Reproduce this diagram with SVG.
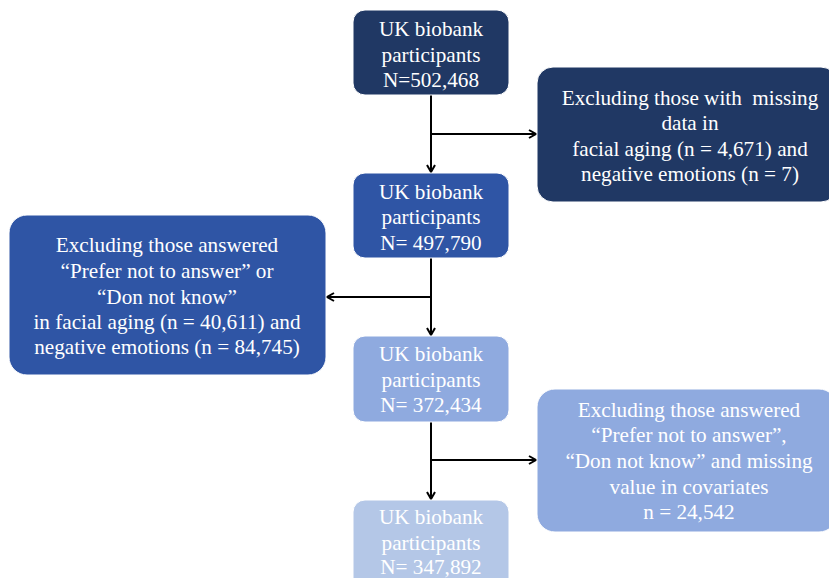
<svg xmlns="http://www.w3.org/2000/svg" width="829" height="578" viewBox="0 0 829 578">
<style>
text{font-family:"Liberation Serif","Times New Roman",serif;font-size:21.2px;fill:#fff;text-anchor:middle}
.c{stroke:#000;stroke-width:2;fill:none}
.d{fill:#203864;stroke:#fff;stroke-width:1}
.m{fill:#2F55A5;stroke:#fff;stroke-width:1}
.l{fill:#8FAADF;stroke:#fff;stroke-width:1}
.x{fill:#B4C7E7;stroke:#fff;stroke-width:1}
</style>
<defs>
<marker id="a" markerWidth="10" markerHeight="10" refX="8" refY="5" orient="auto" markerUnits="userSpaceOnUse">
<path d="M1,1 L8,5 L1,9" fill="none" stroke="#000" stroke-width="2"/>
</marker>
</defs>
<rect width="829" height="578" fill="#fff"/>
<g id="connectors">
<path class="c" d="M431,95 V172" marker-end="url(#a)"/>
<path class="c" d="M431,134 H536" marker-end="url(#a)"/>
<path class="c" d="M431,258 V335" marker-end="url(#a)"/>
<path class="c" d="M431,297 H327" marker-end="url(#a)"/>
<path class="c" d="M431,422 V499" marker-end="url(#a)"/>
<path class="c" d="M431,460 H536" marker-end="url(#a)"/>
</g>
<g id="n1">
<rect class="d" x="353" y="10" width="156" height="85" rx="12"/>
<text x="431" y="36">UK biobank</text>
<text x="431" y="62">participants</text>
<text x="431" y="87">N=502,468</text>
</g>
<g id="e1">
<rect class="d" x="537" y="67" width="300" height="135" rx="16"/>
<text x="690" y="105" xml:space="preserve">Excluding those with  missing</text>
<text x="690" y="130">data in</text>
<text x="690" y="156">facial aging (n = 4,671) and</text>
<text x="690" y="181">negative emotions (n = 7)</text>
</g>
<g id="n2">
<rect class="m" x="353" y="173" width="156" height="85" rx="12"/>
<text x="431" y="199">UK biobank</text>
<text x="431" y="224">participants</text>
<text x="431" y="250">N= 497,790</text>
</g>
<g id="e2">
<rect class="m" x="9" y="215" width="317" height="160" rx="18"/>
<text x="167" y="252">Excluding those answered</text>
<text x="167" y="278">“Prefer not to answer” or</text>
<text x="167" y="304">“Don not know”</text>
<text x="167" y="329">in facial aging (n = 40,611) and</text>
<text x="167" y="354">negative emotions (n = 84,745)</text>
</g>
<g id="n3">
<rect class="l" x="353" y="336" width="156" height="86" rx="12"/>
<text x="431" y="361">UK biobank</text>
<text x="431" y="387">participants</text>
<text x="431" y="412">N= 372,434</text>
</g>
<g id="e3">
<rect class="l" x="537" y="389" width="300" height="143" rx="18"/>
<text x="689" y="417">Excluding those answered</text>
<text x="689" y="442">“Prefer not to answer”,</text>
<text x="689" y="468">“Don not know” and missing</text>
<text x="689" y="494">value in covariates</text>
<text x="689" y="519">n = 24,542</text>
</g>
<g id="n4">
<rect class="x" x="353" y="500" width="156" height="90" rx="12"/>
<text x="431" y="524">UK biobank</text>
<text x="431" y="550">participants</text>
<text x="431" y="574">N= 347,892</text>
</g>
</svg>
